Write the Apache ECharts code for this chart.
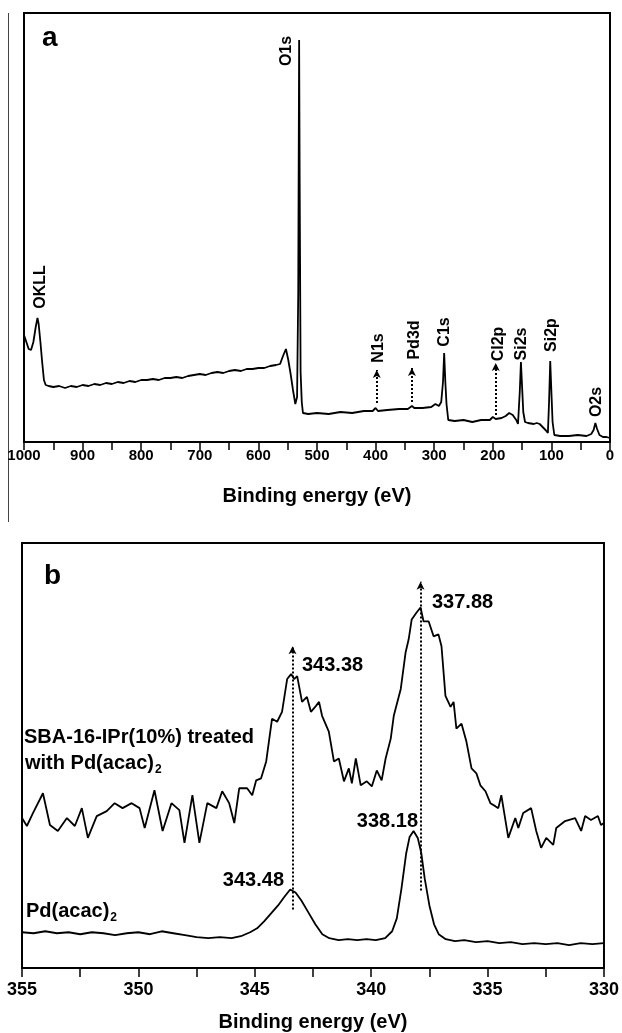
<!DOCTYPE html>
<html>
<head>
<meta charset="utf-8">
<script src="https://cdn.jsdelivr.net/npm/echarts@6/dist/echarts.min.js"></script>
<style>
  html, body { margin: 0; padding: 0; background: #fff; }
  #chart { width: 622px; height: 1033px; }
</style>
</head>
<body>
<div id="chart"></div>
<script>
// panel a: survey spectrum (binding energy eV, counts a.u.)
var surveyEV = [1000, 996, 992, 988, 984, 980, 977, 975, 972, 969, 966, 963, 958, 950, 940, 930, 920, 910, 900, 890,
  880, 870, 860, 850, 840, 830, 820, 810, 800, 790, 780, 770, 760, 750, 740, 730, 720, 710, 700, 690,
  680, 670, 660, 650, 640, 630, 620, 610, 600, 590, 580, 570, 563, 558, 553, 549, 545, 541, 537, 534,
  532, 530.5, 529.5, 528, 526, 524, 515, 500, 480, 460, 440, 420, 405, 400, 396, 380, 360, 345, 338, 334,
  320, 305, 298, 292, 288, 285, 283, 281, 279, 276, 265, 250, 235, 220, 205, 200, 195, 185, 178, 172,
  166, 160, 157, 154, 152, 150, 148, 145, 140, 130, 125, 120, 115, 110, 106, 104, 102, 100, 98, 95,
  85, 70, 55, 40, 32, 28, 25, 22, 18, 12, 6, 0];
var surveyCounts = [107, 100, 93, 92, 100, 115, 124, 118, 100, 80, 62, 57, 56, 55, 56, 54, 56, 55, 57, 56,
  58, 57, 59, 58, 60, 59, 61, 60, 62, 62, 63, 62, 64, 64, 65, 64, 66, 67, 68, 67,
  69, 70, 69, 71, 72, 71, 73, 73, 74, 74, 76, 77, 78, 86, 93, 82, 68, 52, 38, 45,
  150, 402, 250, 70, 40, 29, 28, 29, 28, 30, 29, 31, 31, 34, 31, 32, 33, 33, 36, 34,
  34, 35, 38, 36, 40, 60, 89, 60, 38, 22, 21, 22, 20, 22, 22, 25, 23, 24, 26, 29,
  27, 22, 18, 50, 80, 55, 30, 20, 19, 18, 19, 18, 15, 12, 9, 40, 81, 50, 20, 7,
  6, 6, 7, 6, 8, 12, 19, 13, 7, 5, 5, 4];

// panel b: Pd3d region
var treatedEV = [355.00, 354.79, 354.53, 354.10, 353.80, 353.46, 353.07, 352.73, 352.43, 352.17,
  351.79, 351.36, 351.02, 350.68, 350.29, 349.95, 349.73, 349.31, 348.96, 348.58,
  348.24, 348.02, 347.68, 347.38, 347.04, 346.65, 346.40, 346.10, 345.88, 345.67,
  345.33, 345.11, 344.94, 344.73, 344.51, 344.26, 344.04, 343.83, 343.61, 343.44,
  343.31, 343.18, 342.97, 342.76, 342.59, 342.37, 342.24, 342.11, 341.82, 341.60,
  341.39, 341.17, 340.96, 340.83, 340.66, 340.45, 340.19, 339.97, 339.76, 339.55,
  339.38, 339.16, 339.03, 338.73, 338.52, 338.39, 338.26, 338.05, 337.88, 337.75,
  337.53, 337.32, 337.11, 336.98, 336.81, 336.59, 336.46, 336.34, 336.12, 335.91,
  335.69, 335.48, 335.31, 335.09, 334.88, 334.67, 334.54, 334.41, 334.11, 333.81,
  333.68, 333.47, 333.13, 332.91, 332.70, 332.48, 332.18, 332.05, 331.67, 331.24,
  330.98, 330.81, 330.56, 330.26, 330.13, 330.00];
var treatedCounts = [151, 143, 156, 176, 144, 138, 151, 143, 161, 131,
  153, 158, 166, 161, 166, 161, 141, 179, 138, 166,
  159, 126, 174, 126, 166, 161, 178, 166, 146, 181,
  181, 174, 189, 191, 208, 251, 248, 258, 291, 296,
  291, 294, 268, 273, 258, 264, 268, 254, 238, 208,
  211, 188, 201, 186, 211, 184, 188, 183, 199, 189,
  211, 231, 254, 281, 318, 331, 351, 358, 363, 349,
  349, 334, 336, 324, 274, 263, 268, 241, 246, 228,
  201, 196, 184, 178, 166, 163, 161, 174, 131, 151,
  141, 156, 161, 138, 121, 131, 124, 141, 148, 151,
  138, 153, 149, 153, 144, 146];

var precursorEV = [355.0, 354.5, 354.0, 353.5, 353.0, 352.5, 352.0, 351.5, 351.0, 350.5,
  350.0, 349.5, 349.0, 348.5, 348.0, 347.5, 347.0, 346.5, 346.0, 345.6,
  345.2, 344.9, 344.6, 344.3, 344.0, 343.75, 343.48, 343.25, 343.0, 342.7,
  342.4, 342.1, 341.8, 341.4, 341.0, 340.6, 340.2, 339.8, 339.4, 339.1,
  338.9, 338.7, 338.5, 338.35, 338.18, 338.0, 337.85, 337.7, 337.5, 337.3,
  337.1, 336.8, 336.4, 336.0, 335.5, 335.0, 334.5, 334.0, 333.5, 333.0,
  332.5, 332.0, 331.5, 331.0, 330.5, 330.0];
var precursorCounts = [36, 35, 37, 35, 36, 34, 36, 35, 33, 35,
  36, 34, 37, 35, 33, 31, 30, 31, 30, 32,
  36, 40, 47, 55, 63, 71, 79, 76, 68, 56,
  44, 34, 30, 28, 29, 28, 29, 28, 30, 37,
  50, 80, 115, 132, 138, 131, 116, 90, 63, 44,
  34, 29, 27, 28, 26, 27, 25, 26, 24, 25,
  24, 25, 23, 25, 24, 25];

// dotted arrows: [eV, from, to]
var surveyArrows = [[398, 39, 72], [338, 40, 74], [195, 27, 79]];
var pdArrows = [[343.38, 59, 324], [337.88, 78, 389]];

function zip(xs, ys) {
  return xs.map(function (x, i) { return [x, ys[i]]; });
}
function arrowLines(list) {
  return list.map(function (a) {
    return [{ coord: [a[0], a[1]], symbol: 'none' }, { coord: [a[0], a[2]], symbol: 'arrow', symbolSize: [6, 8] }];
  });
}

var FONT = '"Liberation Sans", Arial, sans-serif';
var chart = echarts.init(document.getElementById('chart'), null, { renderer: 'canvas' });

var tickStyle = { color: '#000', width: 1.5 };
function xAxisCfg(idx, min, max, interval, fs, len, margin) {
  return {
    type: 'value', gridIndex: idx, min: min, max: max, interval: interval, inverse: true,
    name: 'Binding energy (eV)', nameLocation: 'middle', nameGap: 44,
    nameTextStyle: { fontFamily: FONT, fontWeight: 'bold', fontSize: 20, color: '#000' },
    axisLine: { show: true, onZero: false, lineStyle: { color: '#000', width: 2 } },
    axisTick: { show: true, length: len, lineStyle: tickStyle },
    minorTick: { show: true, splitNumber: 2, length: len, lineStyle: tickStyle },
    axisLabel: {
      fontFamily: FONT, fontWeight: 'bold', fontSize: fs, color: '#000', margin: margin,
      formatter: function (v) { return String(v); }
    },
    splitLine: { show: false }
  };
}
function yAxisCfg(idx, max) {
  return {
    type: 'value', gridIndex: idx, min: 0, max: max,
    axisLine: { show: false }, axisTick: { show: false }, axisLabel: { show: false }, splitLine: { show: false }
  };
}
var lineStyle = { color: '#000', width: 1.8 };

chart.setOption({
  animation: false,
  backgroundColor: '#fff',
  grid: [
    { left: 24, top: 13, width: 586, height: 429, show: true, borderColor: '#000', borderWidth: 2, backgroundColor: 'transparent' },
    { left: 22, top: 543, width: 584, height: 428, show: true, borderColor: '#000', borderWidth: 2, backgroundColor: 'transparent' }
  ],
  xAxis: [
    xAxisCfg(0, 0, 1000, 100, 15, 8, 6),
    xAxisCfg(1, 330, 355, 5, 18, 9, 13)
  ],
  yAxis: [yAxisCfg(0, 429), yAxisCfg(1, 428)],
  series: [
    {
      type: 'line', xAxisIndex: 0, yAxisIndex: 0, data: zip(surveyEV, surveyCounts),
      showSymbol: false, lineStyle: lineStyle, silent: true,
      markLine: {
        silent: true, animation: false, label: { show: false },
        lineStyle: { color: '#000', type: 'dotted', width: 2 },
        data: arrowLines(surveyArrows)
      }
    },
    {
      type: 'line', xAxisIndex: 1, yAxisIndex: 1, data: zip(treatedEV, treatedCounts),
      showSymbol: false, lineStyle: lineStyle, silent: true,
      markLine: {
        silent: true, animation: false, label: { show: false },
        lineStyle: { color: '#000', type: 'dotted', width: 2 },
        data: arrowLines(pdArrows)
      }
    },
    {
      type: 'line', xAxisIndex: 1, yAxisIndex: 1, data: zip(precursorEV, precursorCounts),
      showSymbol: false, lineStyle: lineStyle, silent: true
    }
  ]
});

// text annotations
var ctx = document.createElement('canvas').getContext('2d');
function textW(str, size) {
  ctx.font = 'bold ' + size + 'px ' + FONT;
  return ctx.measureText(str).width;
}
function txt(str, x, y, size, align, rot) {
  return {
    type: 'text', x: x, y: y, rotation: rot || 0, silent: true,
    style: {
      text: str, x: 0, y: 0, fill: '#000', textAlign: align || 'left', textVerticalAlign: 'middle',
      font: 'bold ' + size + 'px ' + FONT
    }
  };
}
function withSub(str, x, y, size) {
  var w = textW(str, size);
  return [txt(str, x, y, size, 'left'), txt('2', x + w + 1, y + 7, 12, 'left')];
}

var peakTags = [['O1s', 287, 51], ['OKLL', 41, 287], ['N1s', 379, 348], ['Pd3d', 415, 340], ['C1s', 445, 332],
  ['Cl2p', 499, 344], ['Si2s', 522, 344], ['Si2p', 552, 335], ['O2s', 597, 402]];

var els = [];
els.push({ type: 'line', silent: true, shape: { x1: 8.5, y1: 13, x2: 8.5, y2: 522 }, style: { stroke: '#444', lineWidth: 1 } });
els.push(txt('a', 42, 38, 28, 'left'));
els.push(txt('b', 44, 576, 28, 'left'));
peakTags.forEach(function (t) { els.push(txt(t[0], t[1], t[2], 16, 'center', Math.PI / 2)); });
els.push(txt('SBA-16-IPr(10%) treated', 24, 737, 20, 'left'));
els = els.concat(withSub('with Pd(acac)', 25, 763, 20));
els = els.concat(withSub('Pd(acac)', 26, 911, 20));
els.push(txt('343.38', 302, 665, 20, 'left'));
els.push(txt('337.88', 432, 602, 20, 'left'));
els.push(txt('338.18', 418, 821, 20, 'right'));
els.push(txt('343.48', 284, 880, 20, 'right'));

chart.setOption({ graphic: { elements: els } });
</script>
</body>
</html>
